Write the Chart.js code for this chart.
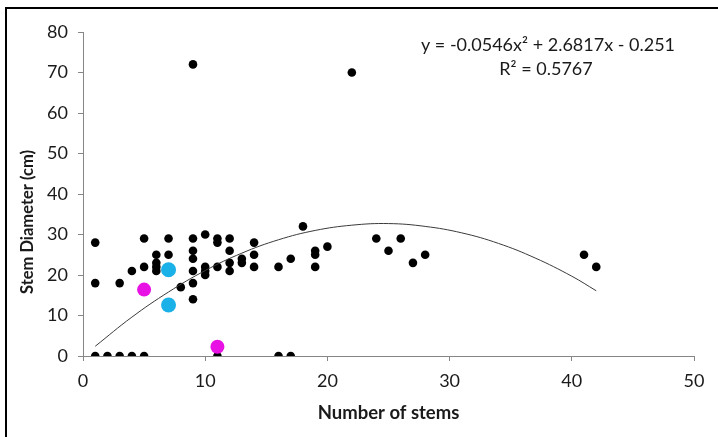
<!DOCTYPE html>
<html>
<head>
<meta charset="utf-8">
<script src="https://cdn.jsdelivr.net/npm/chart.js@4/dist/chart.umd.min.js"></script>
<style>
  html, body { margin: 0; padding: 0; background: #fff; }
  #wrap { position: relative; width: 718px; height: 437px; overflow: hidden; }
  #frame { position: absolute; left: 5px; top: 7px; width: 800px; height: 600px; border: 2px solid #000; }
  #chart { position: absolute; left: 0; top: 0; }
</style>
</head>
<body>
<div id="wrap">
  <div id="frame"></div>
  <canvas id="chart" width="718" height="437"></canvas>
</div>
<script>
// Veriler
const blackX = [1, 1, 3, 4, 5, 5, 6, 6, 6, 6, 7, 7, 8, 9, 9, 9, 9, 9, 9, 9, 10, 10, 10, 10, 11, 11, 11, 12, 12, 12, 12, 13, 13, 14, 14, 14, 16, 17, 18, 19, 19, 19, 20, 22, 24, 25, 26, 27, 28, 41, 42, 1, 2, 3, 4, 5, 11, 16, 17];
const blackY = [28, 18, 18, 21, 29, 22, 25, 23, 22, 21, 29, 25, 17, 72, 29, 26, 24, 21, 18, 14, 30, 22, 21, 20, 29, 28, 22, 29, 26, 23, 21, 24, 23, 28, 25, 22, 22, 24, 32, 26, 25, 22, 27, 70, 29, 26, 29, 23, 25, 25, 22, 0, 0, 0, 0, 0, 0, 0, 0];
const blueX = [7, 7];
const blueY = [21.3, 12.6];
const pinkX = [5, 11];
const pinkY = [16.4, 2.3];
// Trend eğrisi (resimdeki çizgiden okunan noktalar)
const trendX = [1, 4, 7, 10, 13, 16, 19, 22, 25, 28, 31, 34, 37, 40, 42];
const trendY = [2.4, 9.6, 15.8, 21.1, 25.4, 28.7, 31.0, 32.3, 32.7, 32.0, 30.4, 27.8, 24.2, 19.7, 16.1];
const xTicks = [0, 10, 20, 30, 40, 50];
const yTicks = [0, 10, 20, 30, 40, 50, 60, 70, 80];
const eqLine1 = 'y = -0.0546x² + 2.6817x - 0.251';
const eqLine2 = 'R² = 0.5767';

const toPoints = (xs, ys) => xs.map((x, i) => ({ x: x, y: ys[i] }));
const FONT = 'Lato, "Open Sans", sans-serif';

// Eksen başlığı ve denklem metni
const textPlugin = {
    id: 'extraText',
    afterDraw(chart) {
        const ctx = chart.ctx;
        ctx.save();
        ctx.fillStyle = '#1a1a1a';
        ctx.font = 'bold 16.5px ' + FONT;
        ctx.textAlign = 'center';
        ctx.textBaseline = 'middle';
        ctx.translate(28, 222);
        ctx.rotate(-Math.PI / 2);
        ctx.fillText('Stem Diameter (cm)', 0, 0);
        ctx.restore();

        ctx.save();
        ctx.fillStyle = '#1a1a1a';
        ctx.font = '18px ' + FONT;
        ctx.textAlign = 'center';
        ctx.textBaseline = 'middle';
        ctx.fillText(eqLine1, 548, 45);
        ctx.fillText(eqLine2, 546, 69);
        ctx.restore();
    }
};

const axisGray = '#868686';

new Chart(document.getElementById('chart'), {
    type: 'scatter',
    data: {
        datasets: [
            {
                label: 'trend',
                data: toPoints(trendX, trendY),
                showLine: true,
                tension: 0.4,
                borderColor: '#3a3a3a',
                borderWidth: 1,
                pointRadius: 0,
                fill: false,
                order: 0
            },
            {
                label: 'pink',
                data: toPoints(pinkX, pinkY),
                backgroundColor: '#e812e4',
                borderWidth: 0,
                pointRadius: 7,
                order: 1
            },
            {
                label: 'blue',
                data: toPoints(blueX, blueY),
                backgroundColor: '#1ab0e8',
                borderWidth: 0,
                pointRadius: 7.5,
                order: 1
            },
            {
                label: 'black',
                data: toPoints(blackX, blackY),
                backgroundColor: '#000',
                borderWidth: 0,
                pointRadius: 4.3,
                order: 2
            }
        ]
    },
    options: {
        responsive: false,
        devicePixelRatio: 1,
        animation: false,
        layout: { padding: { left: 0, top: 32, right: 24, bottom: 0 } },
        plugins: {
            legend: { display: false },
            tooltip: { enabled: false }
        },
        scales: {
            x: {
                type: 'linear',
                min: 0,
                max: 50,
                afterBuildTicks: scale => { scale.ticks = xTicks.map(v => ({ value: v })); },
                afterFit: scale => { scale.height = 81; },
                ticks: { font: { family: FONT, size: 18 }, color: '#1a1a1a', padding: 9 },
                grid: { drawOnChartArea: false, drawTicks: true, tickLength: 5, color: axisGray },
                border: { color: axisGray },
                title: {
                    display: true,
                    text: 'Number of stems',
                    font: { family: FONT, size: 18.5, weight: 'bold' },
                    color: '#1a1a1a',
                    padding: { top: 0, bottom: 13 }
                }
            },
            y: {
                type: 'linear',
                min: 0,
                max: 80,
                afterBuildTicks: scale => { scale.ticks = yTicks.map(v => ({ value: v })); },
                afterFit: scale => { scale.width = 83; },
                ticks: { font: { family: FONT, size: 18 }, color: '#1a1a1a', padding: 10 },
                grid: { drawOnChartArea: false, drawTicks: true, tickLength: 5, color: axisGray },
                border: { color: axisGray }
            }
        }
    },
    plugins: [textPlugin]
});
</script>
</body>
</html>
